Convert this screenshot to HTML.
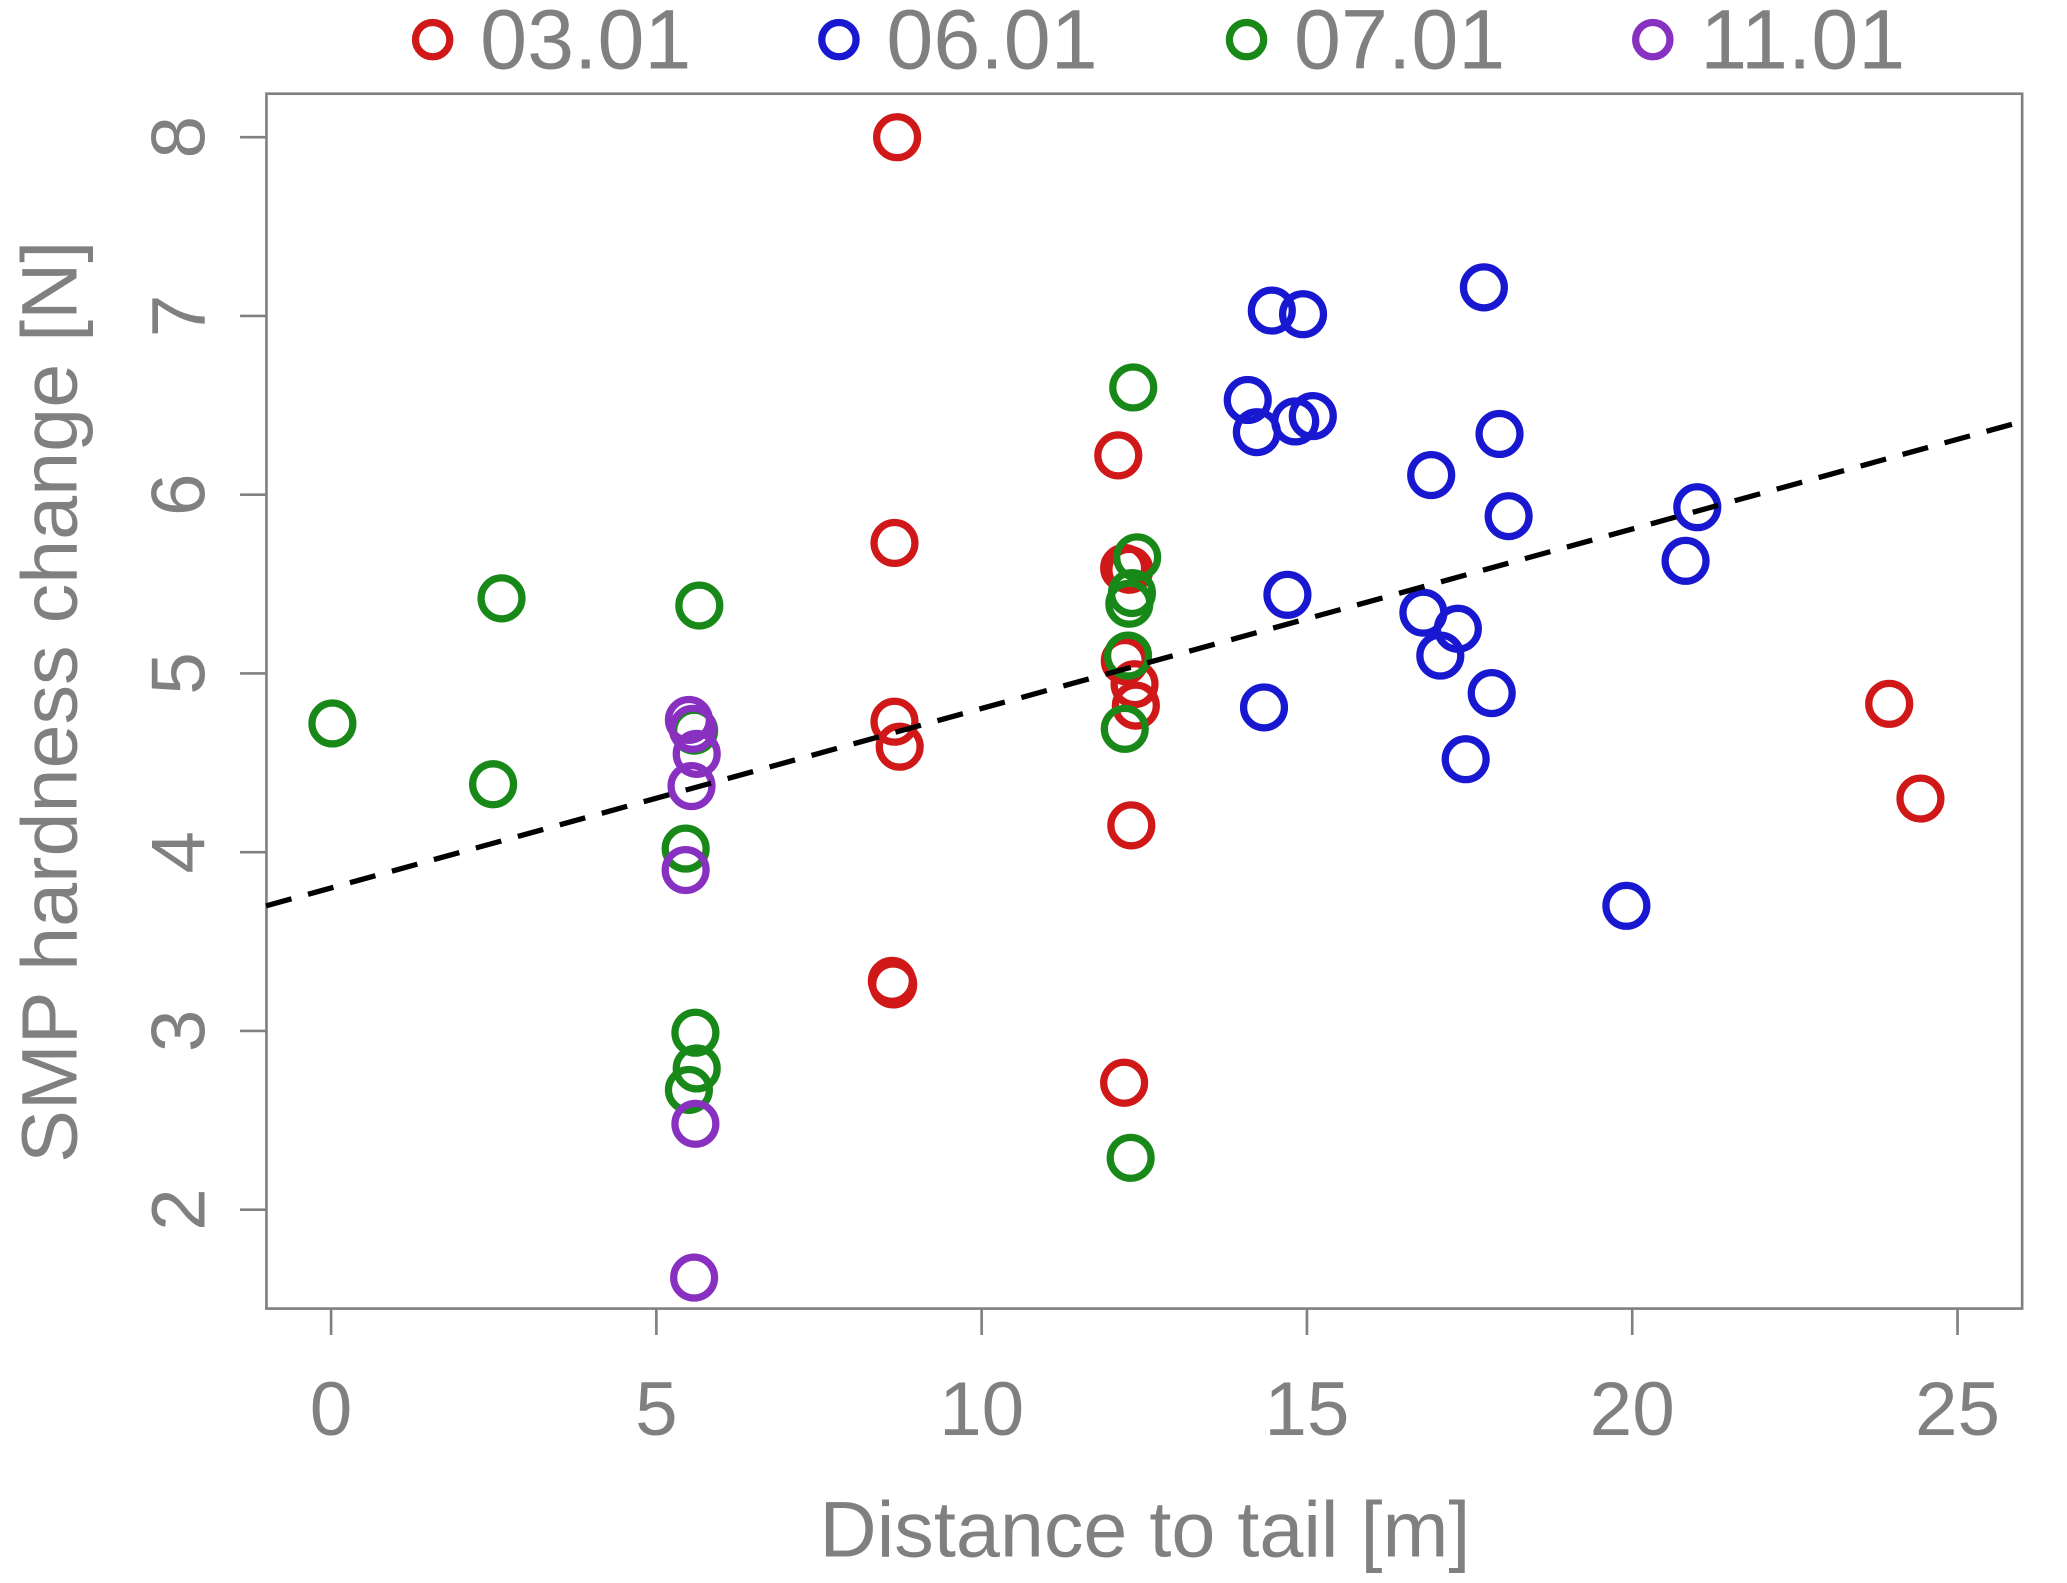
<!DOCTYPE html>
<html><head><meta charset="utf-8"><style>
html,body{margin:0;padding:0;background:#fff;}
svg{display:block;font-family:"Liberation Sans",Arial,sans-serif;}
</style></head><body>
<svg id="chart" width="2067" height="1583" viewBox="0 0 1567 1200">
<rect x="202" y="71" width="1331" height="921" fill="none" stroke="#808080" stroke-width="2"/>
<g id="axes"></g><g id="marks"></g><g id="legend"></g>
<text x="868" y="1180" text-anchor="middle" font-size="60" fill="#808080">Distance to tail [m]</text>
<text transform="translate(58,532) rotate(-90)" text-anchor="middle" font-size="60" fill="#808080">SMP hardness change [N]</text>
</svg>
<script>
const seriesNames=["03.01","06.01","07.01","11.01"];
const seriesColors=["#d01818","#1818d0","#188818","#8830c0"];
const redX=[8.70,8.66,12.10,12.19,12.27,12.20,12.35,12.37,8.66,8.74,12.30,8.62,8.64,12.19,23.95,24.43];
const redY=[8.00,5.73,6.22,5.59,5.58,5.07,4.94,4.82,4.73,4.59,4.15,3.28,3.26,2.71,4.83,4.30];
const blueX=[17.72,14.46,14.94,14.09,14.23,14.82,15.09,17.96,16.91,18.10,21.00,20.82,14.70,16.79,17.32,17.05,17.84,14.34,17.44,19.91];
const blueY=[7.16,7.03,7.01,6.53,6.35,6.41,6.44,6.34,6.11,5.88,5.93,5.63,5.44,5.34,5.25,5.10,4.89,4.81,4.52,3.70];
const greenX=[0.02,2.62,2.49,5.66,5.58,5.45,5.60,5.62,5.50,12.33,12.39,12.31,12.27,12.25,12.20,12.29];
const greenY=[4.72,5.42,4.38,5.38,4.68,4.02,2.99,2.79,2.67,6.60,5.65,5.45,5.39,5.10,4.69,2.29];
const purpleX=[5.50,5.56,5.62,5.54,5.45,5.60,5.58];
const purpleY=[4.74,4.69,4.55,4.37,3.90,2.48,1.62];
const xTicks=[0,5,10,15,20,25];
const yTicks=[2,3,4,5,6,7,8];
const fitIntercept=3.80, fitSlope=0.1004;
const xMin=-1, xMax=26;

const NS="http://www.w3.org/2000/svg";
function sx(v){return 251+(v-0)*49.32;}
function sy(v){return 104+(8-v)*135.5;}
function mk(tag,attrs,parent){const e=document.createElementNS(NS,tag);for(const k in attrs)e.setAttribute(k,attrs[k]);parent.appendChild(e);return e;}
const axes=document.getElementById('axes'),marks=document.getElementById('marks'),legend=document.getElementById('legend');
xTicks.forEach(t=>{
  const l=mk('line',{x1:sx(t),x2:sx(t),y1:992,y2:1012,stroke:'#808080','stroke-width':2},axes);
  
  
  const tx=mk('text',{x:sx(t),y:1088,'text-anchor':'middle','font-size':58,fill:'#808080'},axes);
  tx.textContent=t;
  
  
});
yTicks.forEach(t=>{
  const l=mk('line',{x1:182,x2:202,y1:sy(t),y2:sy(t),stroke:'#808080','stroke-width':2},axes);
  
  
  const tx=mk('text',{transform:`translate(155,${sy(t)}) rotate(-90)`,'text-anchor':'middle','font-size':58,fill:'#808080'},axes);
  tx.textContent=t;
  
  
});
const allX=[redX,blueX,greenX,purpleX], allY=[redY,blueY,greenY,purpleY];
allX.forEach((xs,si)=>{
  xs.forEach((x,i)=>{
    const c=mk('circle',{cx:sx(x),cy:sy(allY[si][i]),r:15.5,fill:'none',stroke:seriesColors[si],'stroke-width':5.5},marks);
    
    
  });
});
const fl=mk('line',{x1:sx(xMin),y1:sy(fitIntercept+fitSlope*xMin),x2:sx(xMax),y2:sy(fitIntercept+fitSlope*xMax),stroke:'#000','stroke-width':4,'stroke-dasharray':'20 13'},marks);


const legX=[328,636,945,1253];
seriesNames.forEach((n,i)=>{
  const c=mk('circle',{cx:legX[i],cy:30,r:13,fill:'none',stroke:seriesColors[i],'stroke-width':5.5},legend);
  
  
  const t=mk('text',{x:legX[i]+36,y:52,'font-size':64,fill:'#808080'},legend);
  t.textContent=n;
  
  
});
</script>
</body></html>
